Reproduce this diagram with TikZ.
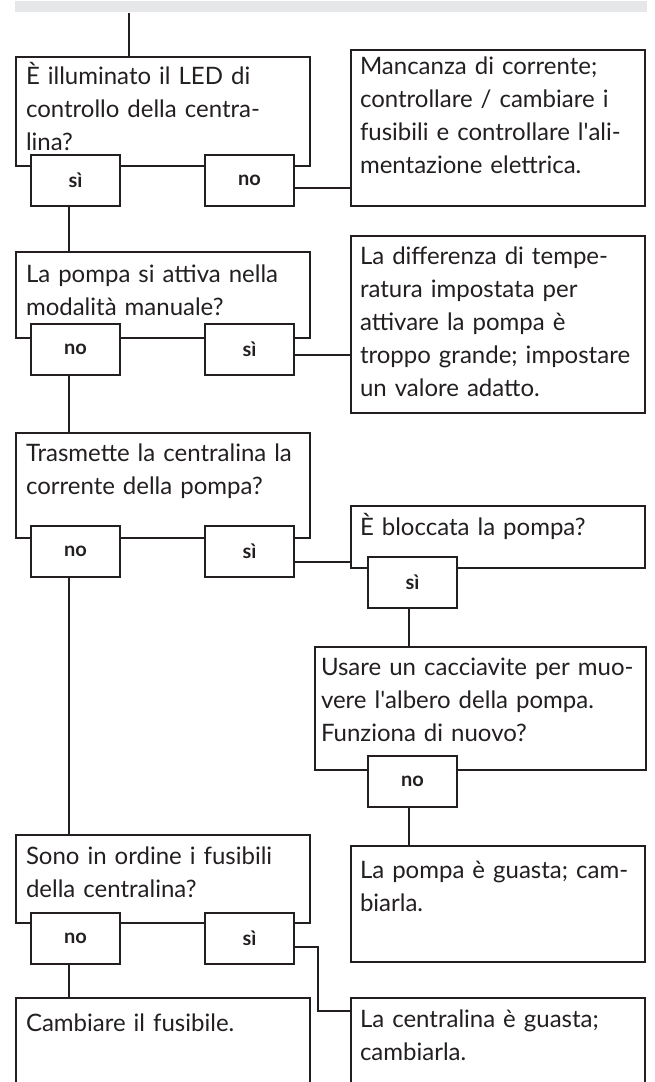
\documentclass[tikz,border=0pt]{standalone}
\usepackage{fontspec}
\setmainfont{Lato}
\usetikzlibrary{positioning}
\definecolor{ink}{HTML}{231F20}
\definecolor{bandgray}{HTML}{E6E7E8}
\newcommand{\fullline}[1]{\makebox[\linewidth][s]{#1}}

\begin{document}
\begin{tikzpicture}[x=1pt, y=-1pt, color=ink, line width=2pt,
	box/.style={draw, anchor=north west, inner sep=0pt, outer sep=0pt, minimum width=294pt},
	ans/.style={draw, fill=white, anchor=north west, inner sep=0pt, outer sep=0pt,
		minimum width=89pt, minimum height=51pt, font=\fontsize{20}{22}\selectfont\bfseries},
	txt/.style={anchor=north west, inner sep=0pt, align=left, text width=282pt,
		font=\fontsize{24}{33}\selectfont}]
	\useasboundingbox (0,0) rectangle (654,1082);
	\clip (0,0) rectangle (654,1082);
	\node[fill=bandgray, anchor=north west, inner sep=0pt, minimum width=632pt, minimum height=11pt] (head) at (14,0) {};
	\coordinate (feed) at (129,0);
	\coordinate (colL) at (69,0);
	\coordinate (colR) at (409,0);
	\coordinate (jog) at (318,0);

	% first question
	\node[box, minimum height=109pt] (q1) at (16,57) {};
	\node[txt, below right=3pt and 9pt of q1.north west] (q1t) {\strut È illuminato il LED di\\controllo della centra-\\lina?};
	\node[ans] (q1y) at (31,155) {sì};
	\node[ans] (q1n) at (205,155) {no};
	\node[box, minimum height=156pt] (r1) at (351,50) {};
	\node[txt, text width=283pt, below right=0pt and 8pt of r1.north west] (r1t) {\strut Mancanza di corrente;\\controllare / cambiare i\\fusibili e controllare l\textquotesingle ali-\\mentazione elettrica.};

	% second question
	\node[box, minimum height=86pt] (q2) at (16,252) {};
	\node[txt, below right=6pt and 9pt of q2.north west] (q2t) {\strut La pompa si attiva nella\\modalità manuale?};
	\node[ans] (q2n) at (31,324) {no};
	\node[ans] (q2y) at (205,324) {sì};
	\node[box, minimum height=177pt] (r2) at (351,236) {};
	\node[txt, text width=283pt, below right=4pt and 8pt of r2.north west] (r2t) {\strut La differenza di tempe-\\ratura impostata per\\attivare la pompa è\\troppo grande; impostare\\un valore adatto.};

	% third question
	\node[box, minimum height=105pt] (q3) at (16,433) {};
	\node[txt, below right=4pt and 9pt of q3.north west] (q3t) {\strut Trasmette la centralina la\\corrente della pompa?};
	\node[ans] (q3n) at (31,526) {no};
	\node[ans] (q3y) at (205,526) {sì};
	\node[box, minimum height=62pt] (q4) at (351,506) {};
	\node[txt, text width=283pt, below right=5pt and 8pt of q4.north west] (q4t) {\strut È bloccata la pompa?};
	\node[ans] (q4y) at (368,557) {sì};

	% screwdriver
	\node[box, minimum width=331pt, minimum height=123pt] (q5) at (315,647) {};
	\node[txt, text width=323pt, below right=4pt and 5pt of q5.north west] (q5t) {\strut\fullline{Usare un cacciavite per muo-}\\\fullline{vere l\textquotesingle albero della pompa.}\\Funziona di nuovo?};
	\node[ans] (q5n) at (368,756) {no};
	\node[box, minimum height=116pt] (r5) at (351,846) {};
	\node[txt, text width=283pt, below right=8pt and 8pt of r5.north west] (r5t) {\strut\fullline{La pompa è guasta; cam-}\\biarla.};

	% fuses
	\node[box, minimum height=88pt] (q6) at (16,835) {};
	\node[txt, below right=5pt and 9pt of q6.north west] (q6t) {\strut Sono in ordine i fusibili\\della centralina?};
	\node[ans] (q6n) at (31,913) {no};
	\node[ans] (q6y) at (205,913) {sì};
	\node[box, minimum height=100pt] (r6l) at (16,998) {};
	\node[txt, below right=9pt and 9pt of r6l.north west] (r6lt) {\strut Cambiare il fusibile.};
	\node[box, minimum height=100pt] (r6r) at (351,998) {};
	\node[txt, text width=283pt, below right=5pt and 8pt of r6r.north west] (r6rt) {\strut\fullline{La centralina è guasta;}\\cambiarla.};

	% connectors
	\draw (head.south -| feed) -- (q1.north -| feed);
	\draw (q1y.south -| colL) -- (q2.north -| colL);
	\draw ([yshift=-7pt]q1n.east) -- ([yshift=-7pt]q1n.east -| r1.west);
	\draw (q2n.south -| colL) -- (q3.north -| colL);
	\draw ([yshift=-5pt]q2y.east) -- ([yshift=-5pt]q2y.east -| r2.west);
	\draw (q3n.south -| colL) -- (q6.north -| colL);
	\draw ([yshift=-10pt]q3y.east) -- ([yshift=-10pt]q3y.east -| q4.west);
	\draw (q4y.south -| colR) -- (q5.north -| colR);
	\draw (q5n.south -| colR) -- (r5.north -| colR);
	\draw (q6n.south -| colL) -- (r6l.north -| colL);
	\draw ([yshift=-8pt]q6y.east) -| ([yshift=-13pt]r6r.north west -| jog) -- ([yshift=-13pt]r6r.north west);
\end{tikzpicture}
\end{document}
